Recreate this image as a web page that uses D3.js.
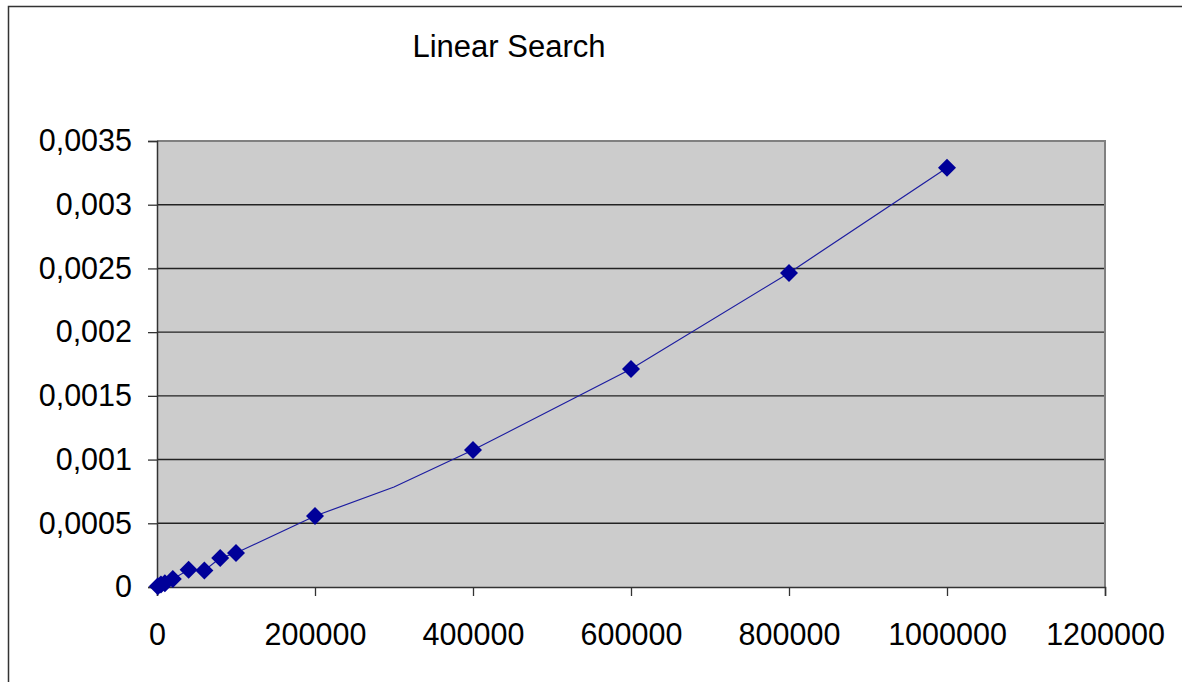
<!DOCTYPE html>
<html>
<head>
<meta charset="utf-8">
<script src="https://cdn.jsdelivr.net/npm/d3@7"></script>
<style>
  body { margin: 0; background: #fff; }
  svg { display: block; font-family: Arial, "Liberation Sans", sans-serif; }
</style>
</head>
<body>
<div id="chart"></div>
<script>
// Linear search timing: array size vs seconds
const sizes = [1000, 5000, 10000, 20000, 40000, 60000, 80000, 100000, 200000, 300000, 400000, 600000, 800000, 1000000];
const times = [0.000005, 0.00002, 0.00003, 0.000063, 0.000135, 0.00013, 0.000228, 0.000267, 0.000557, 0.000785, 0.001075, 0.00171, 0.002465, 0.00329];
// the 300000 point has its marker missing in the original
const hiddenMarkers = [300000];
const xTicks = [0, 200000, 400000, 600000, 800000, 1000000, 1200000];
const yTicks = [0, 0.0005, 0.001, 0.0015, 0.002, 0.0025, 0.003, 0.0035];

const width = 1182;
const height = 682;
const plot = { left: 157, right: 1105, top: 141, bottom: 587 };

const data = sizes.map((s, i) => ({ size: s, time: times[i] }));

const locale = d3.formatLocale({ decimal: ",", thousands: "", grouping: [3], currency: ["", ""] });
const yFmt = d => d === 0 ? "0" : locale.format("~r")(d);

const x = d3.scaleLinear().domain([0, 1200000]).range([plot.left, plot.right]);
const y = d3.scaleLinear().domain([0, 0.0035]).range([plot.bottom, plot.top]);

const svg = d3.select("#chart").append("svg")
    .attr("width", width)
    .attr("height", height);

// outer chart frame
svg.append("rect")
    .attr("x", 8.5).attr("y", 6.5)
    .attr("width", width + 20).attr("height", height + 20)
    .attr("fill", "#fff")
    .attr("stroke", "#333")
    .attr("stroke-width", 1.5);

svg.append("text")
    .attr("x", 509)
    .attr("y", 57)
    .attr("text-anchor", "middle")
    .style("font-size", "31px")
    .style("fill", "#000")
    .text("Linear Search");

// plot area
svg.append("rect")
    .attr("x", plot.left).attr("y", plot.top)
    .attr("width", plot.right - plot.left)
    .attr("height", plot.bottom - plot.top)
    .attr("fill", "#cccccc");

// gridlines
svg.append("g")
    .selectAll("line")
    .data(yTicks.filter(t => t > 0 && t < 0.0035))
    .join("line")
    .attr("x1", plot.left).attr("x2", plot.right)
    .attr("y1", d => y(d)).attr("y2", d => y(d))
    .attr("stroke", "#222")
    .attr("stroke-width", 1.4);

// plot border top/right
svg.append("path")
    .attr("d", `M${plot.left},${plot.top}H${plot.right}V${plot.bottom}`)
    .attr("fill", "none")
    .attr("stroke", "#808080")
    .attr("stroke-width", 2);

// y axis
const yAxis = svg.append("g")
    .attr("transform", `translate(${plot.left},0)`)
    .call(d3.axisLeft(y).tickValues(yTicks).tickFormat(yFmt).tickSize(9).tickPadding(16));

// x axis
const xAxis = svg.append("g")
    .attr("transform", `translate(0,${plot.bottom})`)
    .call(d3.axisBottom(x).tickValues(xTicks).tickFormat(d3.format("d")).tickSize(9).tickPadding(27));

[yAxis, xAxis].forEach(ax => {
    ax.select(".domain").attr("stroke", "#333").attr("stroke-width", 1.5);
    ax.selectAll(".tick line").attr("stroke", "#333").attr("stroke-width", 1.3);
    ax.selectAll(".tick text")
        .style("font-size", "30.5px")
        .style("font-family", "Arial, 'Liberation Sans', sans-serif")
        .attr("fill", "#000");
});

// series line
const line = d3.line()
    .x(d => x(d.size))
    .y(d => y(d.time));

svg.append("path")
    .datum(data)
    .attr("d", line)
    .attr("fill", "none")
    .attr("stroke", "#1c1ca0")
    .attr("stroke-width", 1.2);

// diamond markers
const r = 9;
svg.append("g")
    .selectAll("path")
    .data(data.filter(d => !hiddenMarkers.includes(d.size)))
    .join("path")
    .attr("transform", d => `translate(${x(d.size)},${y(d.time)})`)
    .attr("d", `M0,${-r}L${r},0L0,${r}L${-r},0Z`)
    .attr("fill", "#000099");
</script>
</body>
</html>
